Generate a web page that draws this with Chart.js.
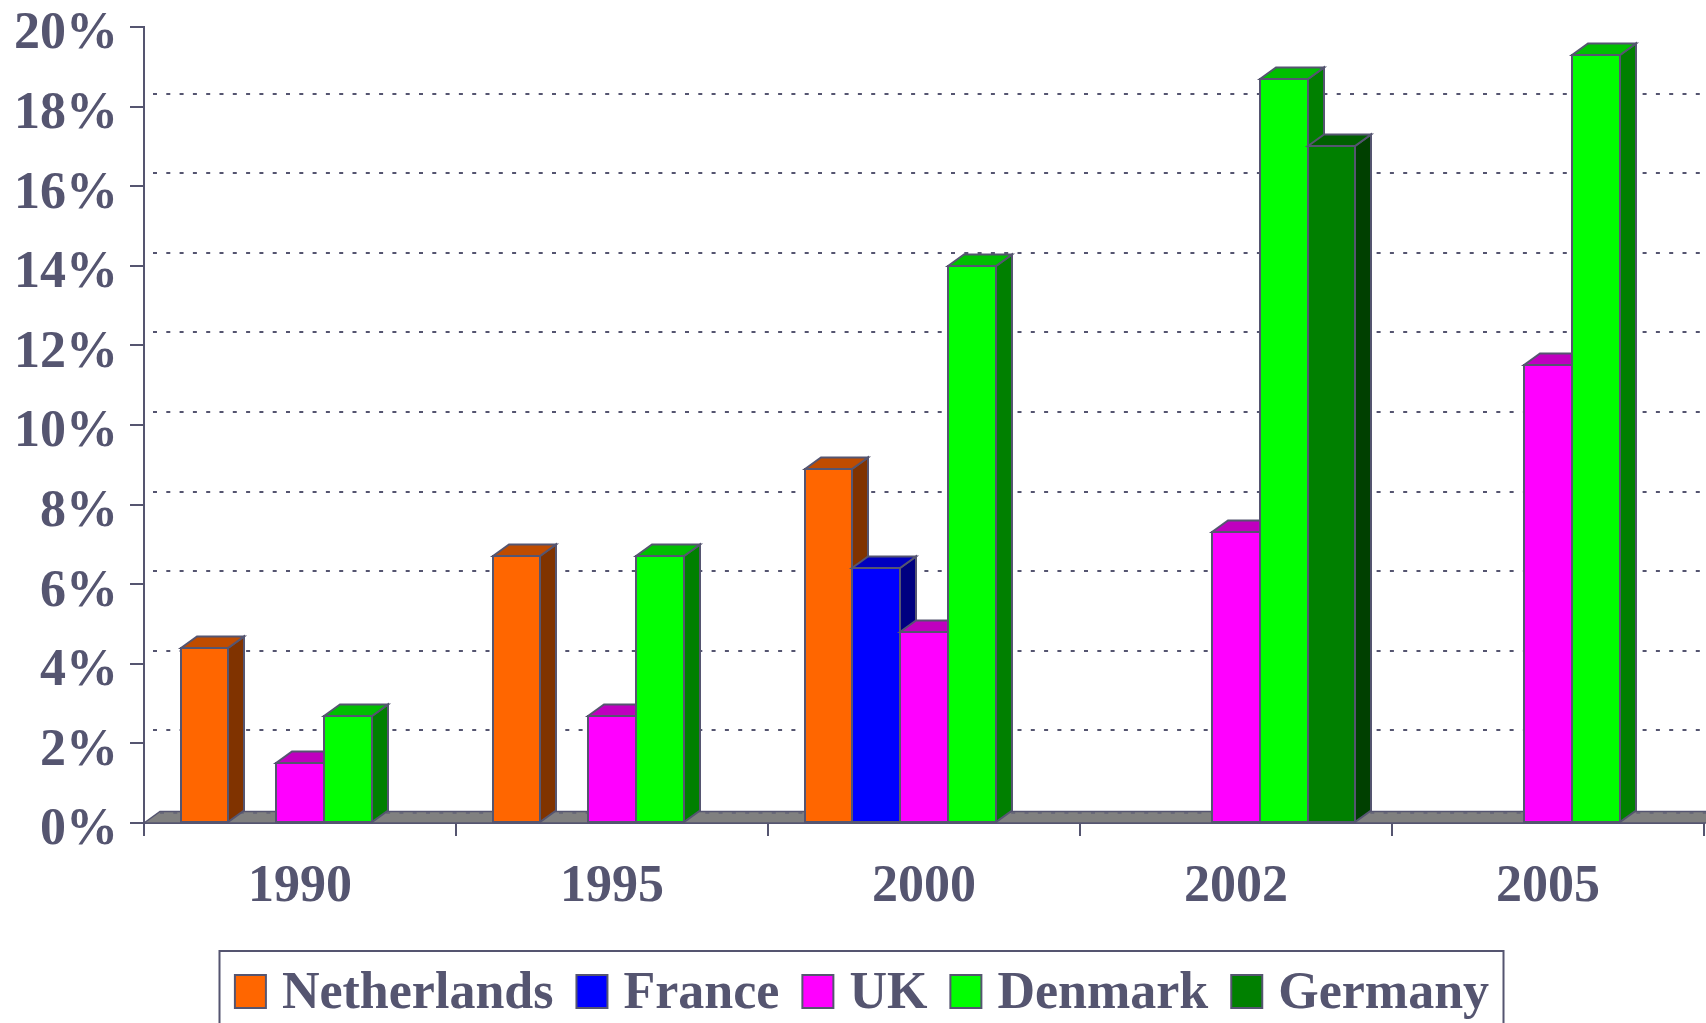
<!DOCTYPE html>
<html><head><meta charset="utf-8">
<script src="https://cdn.jsdelivr.net/npm/chart.js@4/dist/chart.umd.min.js"></script>
<style>html,body{margin:0;padding:0;background:#fff;overflow:hidden}#wrap{width:1706px;height:1023px;position:relative}canvas{display:block}</style>
</head><body><div id="wrap"><canvas id="c" width="1706" height="1023"></canvas></div>
<script>
// ---- data ----
const categories = ['1990', '1995', '2000', '2002', '2005'];
const seriesNames = ['Netherlands', 'France', 'UK', 'Denmark', 'Germany'];
const netherlands = [4.4, 6.7, 8.9, null, null];
const france = [null, null, 6.4, null, null];
const uk = [1.5, 2.7, 4.8, 7.3, 11.5];
const denmark = [2.7, 6.7, 14.0, 18.7, 19.3];
const germany = [null, null, null, 17.0, null];
const yTickValues = [0, 2, 4, 6, 8, 10, 12, 14, 16, 18, 20];

// ---- styles ----
const INK = '#555570';
const FONT = '"Liberation Serif", "Times New Roman", serif';
const frontColors = ['#FF6600', '#0000FF', '#FF00FF', '#00FF00', '#008000'];
const topColors = ['#BF4C00', '#0000BF', '#BF00BF', '#00BF00', '#006000'];
const sideColors = ['#803300', '#000080', '#800080', '#008000', '#004000'];
const DX = 16, DY = 11.5, GRID_DY = 13;

const seriesValues = [netherlands, france, uk, denmark, germany];

function poly(ctx, pts, fill) {
  ctx.beginPath();
  ctx.moveTo(pts[0][0], pts[0][1]);
  for (let i = 1; i < pts.length; i++) ctx.lineTo(pts[i][0], pts[i][1]);
  ctx.closePath();
  ctx.fillStyle = fill;
  ctx.fill();
  ctx.stroke();
}

const threeD = {
  id: 'threeD',
  beforeDatasetsDraw(chart) {
    const {ctx, chartArea: a, scales: {x, y}} = chart;
    const W = chart.width;
    const y0 = y.getPixelForValue(0);
    ctx.save();
    // floor
    ctx.strokeStyle = INK; ctx.lineWidth = 1.5;
    poly(ctx, [[a.left, y0], [a.left + DX, y0 - DY], [W + 5, y0 - DY], [W + 5, y0]], '#808080');
    // dotted back-wall gridlines
    ctx.setLineDash([4, 9.3]);
    ctx.lineWidth = 2;
    ctx.strokeStyle = INK;
    y.ticks.forEach(t => {
      if (t.value <= 0 || t.value >= 20) return;
      const yy = Math.round(y.getPixelForValue(t.value) - GRID_DY);
      ctx.beginPath();
      ctx.moveTo(a.left + 9, yy);
      ctx.lineTo(W, yy);
      ctx.stroke();
    });
    // marks on floor top edge
    ctx.lineWidth = 1;
    ctx.beginPath();
    ctx.moveTo(a.left + DX, y0 - DY + 1.5);
    ctx.lineTo(W, y0 - DY + 1.5);
    ctx.stroke();
    ctx.restore();
  },
  afterDatasetsDraw(chart) {
    const {ctx} = chart;
    ctx.save();
    ctx.strokeStyle = INK;
    ctx.lineWidth = 2;
    ctx.lineJoin = 'miter';
    for (let i = 0; i < categories.length; i++) {
      for (let d = 0; d < chart.data.datasets.length; d++) {
        const v = chart.data.datasets[d].data[i];
        if (v === null || v === undefined) continue;
        const el = chart.getDatasetMeta(d).data[i];
        const l = Math.round(el.x - el.width / 2), r = Math.round(el.x + el.width / 2);
        const t = Math.round(el.y), b = Math.round(el.base);
        poly(ctx, [[r, t], [r + DX, t - DY], [r + DX, b - DY], [r, b]], sideColors[d]);
        poly(ctx, [[l, t], [l + DX, t - DY], [r + DX, t - DY], [r, t]], topColors[d]);
        poly(ctx, [[l, t], [r, t], [r, b], [l, b]], frontColors[d]);
      }
    }
    ctx.restore();
  },
  afterDraw(chart) {
    const {ctx} = chart;
    ctx.save();
    ctx.font = 'bold 52px ' + FONT;
    const SW = 31, SH = 33, GAP_T = 16, GAP_I = 23;
    const widths = seriesNames.map(n => ctx.measureText(n).width);
    let total = 0;
    widths.forEach((w, k) => { total += SW + GAP_T + w + (k < widths.length - 1 ? GAP_I : 0); });
    const cx = 862;
    let x = cx - total / 2;
    // box
    ctx.strokeStyle = INK; ctx.lineWidth = 2;
    ctx.strokeRect(Math.round(x - 15.5) + 0.5, 951, Math.round(total + 30), 120);
    ctx.textBaseline = 'alphabetic';
    ctx.textAlign = 'left';
    seriesNames.forEach((n, k) => {
      ctx.fillStyle = frontColors[k];
      ctx.fillRect(x, 975, SW, SH);
      ctx.lineWidth = 2; ctx.strokeStyle = INK;
      ctx.strokeRect(x, 975, SW, SH);
      ctx.fillStyle = INK;
      ctx.fillText(n, x + SW + GAP_T, 1008);
      x += SW + GAP_T + widths[k] + GAP_I;
    });
    ctx.restore();
  }
};

new Chart(document.getElementById('c'), {
  type: 'bar',
  data: {
    labels: categories,
    datasets: seriesNames.map((n, k) => ({
      label: n,
      data: seriesValues[k],
      backgroundColor: frontColors[k],
      borderColor: INK,
      borderWidth: 2,
      categoryPercentage: 0.765,
      barPercentage: 1.0
    }))
  },
  options: {
    responsive: false,
    animation: false,
    devicePixelRatio: 1,
    layout: {padding: {top: 27, right: 2, left: 0, bottom: 0}},
    plugins: {legend: {display: false}, tooltip: {enabled: false}},
    scales: {
      x: {
        offset: true,
        grid: {offset: true, drawOnChartArea: false, drawTicks: true, tickLength: 13, color: INK, lineWidth: 2},
        border: {display: true, color: INK, width: 2},
        ticks: {font: {family: FONT, size: 52, weight: 'bold'}, color: INK, padding: 20, maxRotation: 0, autoSkip: false},
        afterFit(s) { s.height = 200; s.paddingLeft = 0; s.paddingRight = 0; }
      },
      y: {
        min: 0, max: 20,
        afterBuildTicks(s) { s.ticks = yTickValues.map(v => ({value: v})); },
        ticks: {font: {family: FONT, size: 52, weight: 'bold'}, color: INK, padding: 12, labelOffset: 8,
                callback: v => v + '%'},
        grid: {drawOnChartArea: false, drawTicks: true, tickLength: 14, color: INK, lineWidth: 2},
        border: {display: true, color: INK, width: 2},
        afterFit(s) { s.width = 144; s.paddingTop = 0; s.paddingBottom = 0; }
      }
    }
  },
  plugins: [threeD]
});
</script>
</body></html>
